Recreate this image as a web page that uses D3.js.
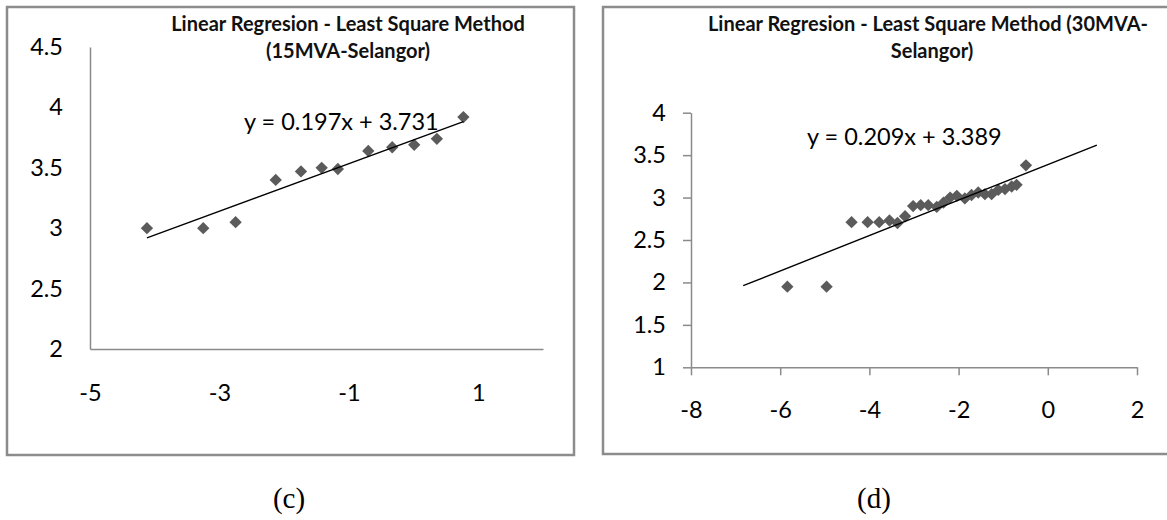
<!DOCTYPE html>
<html>
<head>
<meta charset="utf-8">
<script src="https://cdn.jsdelivr.net/npm/d3@7/dist/d3.min.js"></script>
<style>
  html, body { margin: 0; padding: 0; background: #fff; }
  svg { display: block; }
  text { font-family: Lato, "Open Sans", sans-serif; }
</style>
</head>
<body>
<svg id="chart" width="1167" height="520"></svg>
<script>
// ---- Data ----
const panelLabels = ["(c)", "(d)"];

const titleC = ["Linear Regresion - Least Square Method", "(15MVA-Selangor)"];
const titleD = ["Linear Regresion - Least Square Method (30MVA-", "Selangor)"];

const xC = [-4.12, -3.25, -2.75, -2.13, -1.74, -1.42, -1.17, -0.70, -0.33, 0.01, 0.36, 0.77];
const yC = [3.00, 3.00, 3.05, 3.40, 3.47, 3.50, 3.49, 3.64, 3.67, 3.69, 3.74, 3.92];
const slopeC = 0.197, interceptC = 3.731;
const trendRangeC = [-4.12, 0.77];
const equationC = "y = 0.197x + 3.731";
const xTicksC = [-5, -3, -1, 1];
const yTicksC = [2, 2.5, 3, 3.5, 4, 4.5];
const xDomainC = [-5, 2];
const yDomainC = [2, 4.5];

const xD = [-5.84, -4.96, -4.40, -4.04, -3.78, -3.55, -3.37, -3.20, -3.02, -2.85, -2.68, -2.49,
            -2.34, -2.19, -2.04, -1.86, -1.71, -1.56, -1.41, -1.26, -1.11, -0.96, -0.81, -0.70, -0.49];
const yD = [1.95, 1.95, 2.71, 2.71, 2.71, 2.73, 2.70, 2.78, 2.90, 2.91, 2.91, 2.89,
            2.94, 3.00, 3.02, 2.99, 3.03, 3.06, 3.04, 3.04, 3.09, 3.10, 3.13, 3.15, 3.38];
const slopeD = 0.209, interceptD = 3.389;
const trendRangeD = [-6.83, 1.10];
const equationD = "y = 0.209x + 3.389";
const xTicksD = [-8, -6, -4, -2, 0, 2];
const yTicksD = [1, 1.5, 2, 2.5, 3, 3.5, 4];
const xDomainD = [-8, 2];
const yDomainD = [1, 4];

// ---- Drawing ----
const svg = d3.select("#chart");
const axisColor = "#8a8a8a";
const markerColor = "#5b5b5b";

function drawPanel(cfg) {
  const g = svg.append("g");
  // frame
  g.append("rect")
    .attr("x", cfg.frame[0]).attr("y", cfg.frame[1])
    .attr("width", cfg.frame[2]).attr("height", cfg.frame[3])
    .attr("fill", "none").attr("stroke", "#8c8c8c").attr("stroke-width", 2.5);

  const x = d3.scaleLinear().domain(cfg.xDomain).range(cfg.xRange);
  const y = d3.scaleLinear().domain(cfg.yDomain).range(cfg.yRange);

  // title
  cfg.title.forEach((t, i) => {
    g.append("text")
      .attr("x", cfg.titleX[i]).attr("y", cfg.titleY[i])
      .attr("text-anchor", "middle")
      .attr("font-weight", "bold").attr("font-size", cfg.titleSize)
      .attr("fill", "#111")
      .text(t);
  });

  // axes
  const xAxis = d3.axisBottom(x).tickValues(cfg.xTicks)
    .tickSizeInner(cfg.tick).tickSizeOuter(0).tickPadding(cfg.xPad)
    .tickFormat(d3.format("d"));
  const yAxis = d3.axisLeft(y).tickValues(cfg.yTicks)
    .tickSizeInner(cfg.tick).tickSizeOuter(0).tickPadding(cfg.yPad)
    .tickFormat(d => String(d));

  const gx = g.append("g").attr("transform", `translate(0,${cfg.yRange[0]})`).call(xAxis);
  const gy = g.append("g").attr("transform", `translate(${cfg.xRange[0]},0)`).call(yAxis);
  [gx, gy].forEach(a => {
    a.select(".domain").attr("stroke", axisColor).attr("stroke-width", 1.5);
    a.selectAll(".tick line").attr("stroke", axisColor).attr("stroke-width", 1.5);
    a.selectAll(".tick text").attr("font-family", "Lato, 'Open Sans', sans-serif")
      .attr("font-size", cfg.labelSize).attr("fill", "#000");
  });
  gx.selectAll(".tick text").text(d => d < 0 ? "-" + Math.abs(d) : String(d));

  // points
  const pts = cfg.xs.map((v, i) => [v, cfg.ys[i]]);
  g.append("g").selectAll("path").data(pts).join("path")
    .attr("d", d3.symbol(d3.symbolSquare, 76)())
    .attr("transform", d => `translate(${x(d[0])},${y(d[1])}) rotate(45)`)
    .attr("fill", markerColor);

  // trend line
  const line = d3.line().x(d => x(d)).y(d => y(cfg.slope * d + cfg.intercept));
  g.append("path").attr("d", line(cfg.trendRange))
    .attr("fill", "none").attr("stroke", "#000").attr("stroke-width", 1.4);

  // equation
  g.append("text")
    .attr("x", cfg.eqPos[0]).attr("y", cfg.eqPos[1])
    .attr("font-size", cfg.eqSize).attr("fill", "#000")
    .text(cfg.equation);

  // panel caption
  g.append("text")
    .attr("x", cfg.capPos[0]).attr("y", cfg.capPos[1])
    .attr("text-anchor", "middle")
    .style("font-family", "'Liberation Serif', 'DejaVu Serif', serif")
    .attr("font-size", 29).attr("fill", "#000")
    .text(cfg.caption);
}

drawPanel({
  frame: [7, 7, 567, 448],
  xDomain: xDomainC, yDomain: yDomainC,
  xRange: [90, 543], yRange: [349, 47],
  xTicks: xTicksC, yTicks: yTicksC,
  tick: 0, xPad: 35, yPad: 27,
  labelSize: 23.5,
  title: titleC, titleX: [348, 348], titleY: [31, 58], titleSize: 20,
  xs: xC, ys: yC, slope: slopeC, intercept: interceptC, trendRange: trendRangeC,
  equation: equationC, eqPos: [244, 130], eqSize: 23.5,
  caption: panelLabels[0], capPos: [289, 508]
});

drawPanel({
  frame: [603, 7, 580, 447],
  xDomain: xDomainD, yDomain: yDomainD,
  xRange: [691, 1137], yRange: [367.3, 112.7],
  xTicks: xTicksD, yTicks: yTicksD,
  tick: 8, xPad: 26, yPad: 17,
  labelSize: 23.5,
  title: titleD, titleX: [928, 932], titleY: [31, 58], titleSize: 20,
  xs: xD, ys: yD, slope: slopeD, intercept: interceptD, trendRange: trendRangeD,
  equation: equationD, eqPos: [807, 145], eqSize: 23.5,
  caption: panelLabels[1], capPos: [874, 508]
});
</script>
</body>
</html>
